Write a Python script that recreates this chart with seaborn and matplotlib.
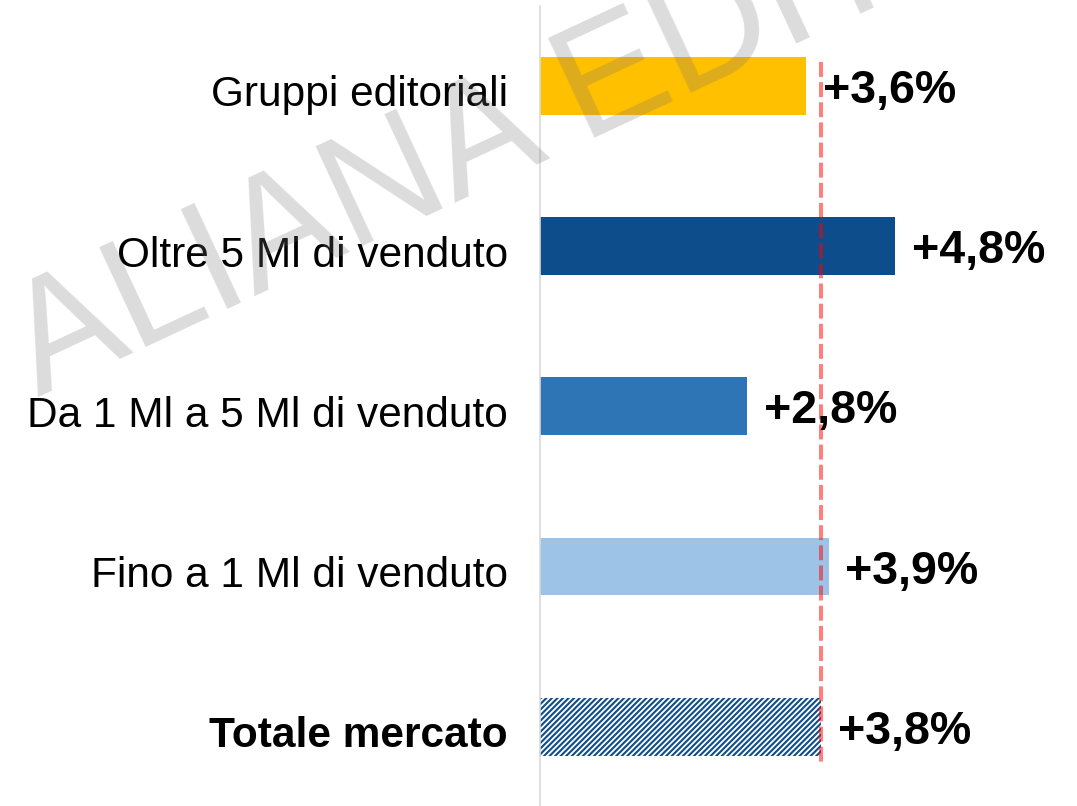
import numpy as np
import pandas as pd
import seaborn as sns
import matplotlib.pyplot as plt
from matplotlib.transforms import ScaledTranslation

categories = ["Gruppi editoriali", "Oltre 5 Ml di venduto", "Da 1 Ml a 5 Ml di venduto",
              "Fino a 1 Ml di venduto", "Totale mercato"]
growth = [3.6, 4.8, 2.8, 3.9, 3.8]
value_labels = ["+3,6%", "+4,8%", "+2,8%", "+3,9%", "+3,8%"]
bar_colors = ["#FFC000", "#0E4D8C", "#2E75B6", "#9DC3E6", "white"]
market_total = 3.8

sns.set_theme(style="white")
plt.rcParams["font.family"] = ["Liberation Sans", "DejaVu Sans"]
plt.rcParams["hatch.linewidth"] = 1.5

df = pd.DataFrame({"cat": categories, "val": growth})

fig = plt.figure(figsize=(10.77, 8.06), dpi=100)
ax = fig.add_axes([540 / 1077, -0.001, 537 / 1077, 0.9938])

sns.barplot(data=df, x="val", y="cat", hue="cat", palette=bar_colors, orient="h",
            width=0.36, legend=False, ax=ax, linewidth=0, saturation=1)

# hatched "Totale mercato" bar
for p in ax.patches:
    if abs(p.get_y() + p.get_height() / 2 - 4) < 0.01:
        p.set_facecolor("white")
        p.set_edgecolor("#0E4D8C")
        p.set_hatch("//////")
        p.set_linewidth(0)

# dashed reference line at market total
ax.vlines(market_total, -0.15, 4.23, color="red", alpha=0.5, linewidth=2.9,
          linestyles=[(0, (3.7, 1.3))], zorder=4)

for i, (v, lab) in enumerate(zip(growth, value_labels)):
    ax.annotate(lab, xy=(v, i), xytext=(12, 0), textcoords="offset points",
                ha="left", va="center_baseline", fontsize=33.5, fontweight="bold",
                color="black", zorder=5)

ax.set_xlim(0, 537 / 74)
ax.set_ylim(4.5, -0.5)
ax.set_xlabel("")
ax.set_ylabel("")
ax.set_xticks([])
ax.tick_params(axis="y", which="major", length=0, pad=23, labelsize=30.5, labelcolor="black")
ax.set_yticks(np.arange(-0.5, 4.6, 1), minor=True)
ax.tick_params(axis="y", which="minor", length=6, width=1.2, color="#D9D9D9", direction="out")
shift = ScaledTranslation(0, -0.05, fig.dpi_scale_trans)
for t in ax.get_yticklabels():
    t.set_transform(t.get_transform() + shift)
    if t.get_text() == "Totale mercato":
        t.set_fontweight("bold")

for s in ["top", "right", "bottom"]:
    ax.spines[s].set_visible(False)
ax.spines["left"].set_color("#D9D9D9")
ax.spines["left"].set_linewidth(1.2)

# watermark, rotated, running off the top edge as in the source
fig.text(38 / 1077, (806 - 397) / 806, "ALIANA EDITORI", rotation=25, rotation_mode="anchor",
         ha="left", va="baseline", fontsize=114.6, color="#737373", alpha=0.25, zorder=10)

fig.savefig("out.png", dpi=100)
